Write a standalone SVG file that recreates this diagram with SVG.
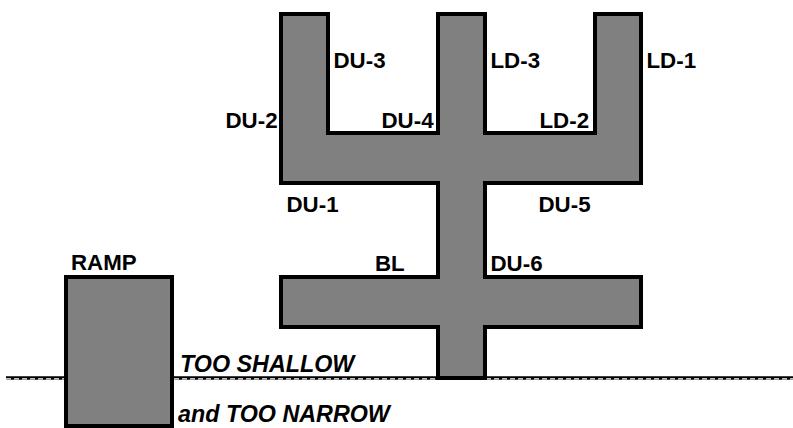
<svg xmlns="http://www.w3.org/2000/svg" width="793" height="428" viewBox="0 0 793 428">
<style>
.s{fill:#808080;stroke:#000;stroke-width:4;stroke-linejoin:miter}
.t{font-family:"Liberation Sans",Arial,sans-serif;font-size:22.3px;font-weight:bold;fill:#000}
.i{font-style:italic;font-size:23.3px}
.g1{stroke:#000;stroke-width:3.4;fill:none}
.g2{stroke:#fff;stroke-width:1.2;stroke-dasharray:5 3;fill:none}
</style>
<rect width="793" height="428" fill="#fff"/>
<g id="connectors">
<path class="g1" d="M6 378H793"/>
<path class="g2" d="M6 378.800H793"/>
</g>
<g id="ramp"><rect class="s" x="66" y="277" width="106" height="149"/><text class="t" x="71" y="270">RAMP</text></g>
<g id="structure"><path class="s" d="M281 14H328V133H438V14H485V133H595V14H641V183H485V277H641V327H485V378H438V327H281V277H438V183H281Z"/></g>
<g id="labels">
<text class="t" x="333.500" y="68">DU-3</text>
<text class="t" x="490.500" y="68">LD-3</text>
<text class="t" x="646.500" y="68">LD-1</text>
<text class="t" x="225.500" y="128">DU-2</text>
<text class="t" x="381.500" y="128">DU-4</text>
<text class="t" x="539.500" y="128">LD-2</text>
<text class="t" x="286.500" y="212">DU-1</text>
<text class="t" x="538.500" y="212">DU-5</text>
<text class="t" x="375" y="271">BL</text>
<text class="t" x="490.500" y="271">DU-6</text>
<text class="t i" x="180" y="372">TOO SHALLOW</text>
<text class="t i" x="178" y="422">and TOO NARROW</text>
</g>
</svg>
